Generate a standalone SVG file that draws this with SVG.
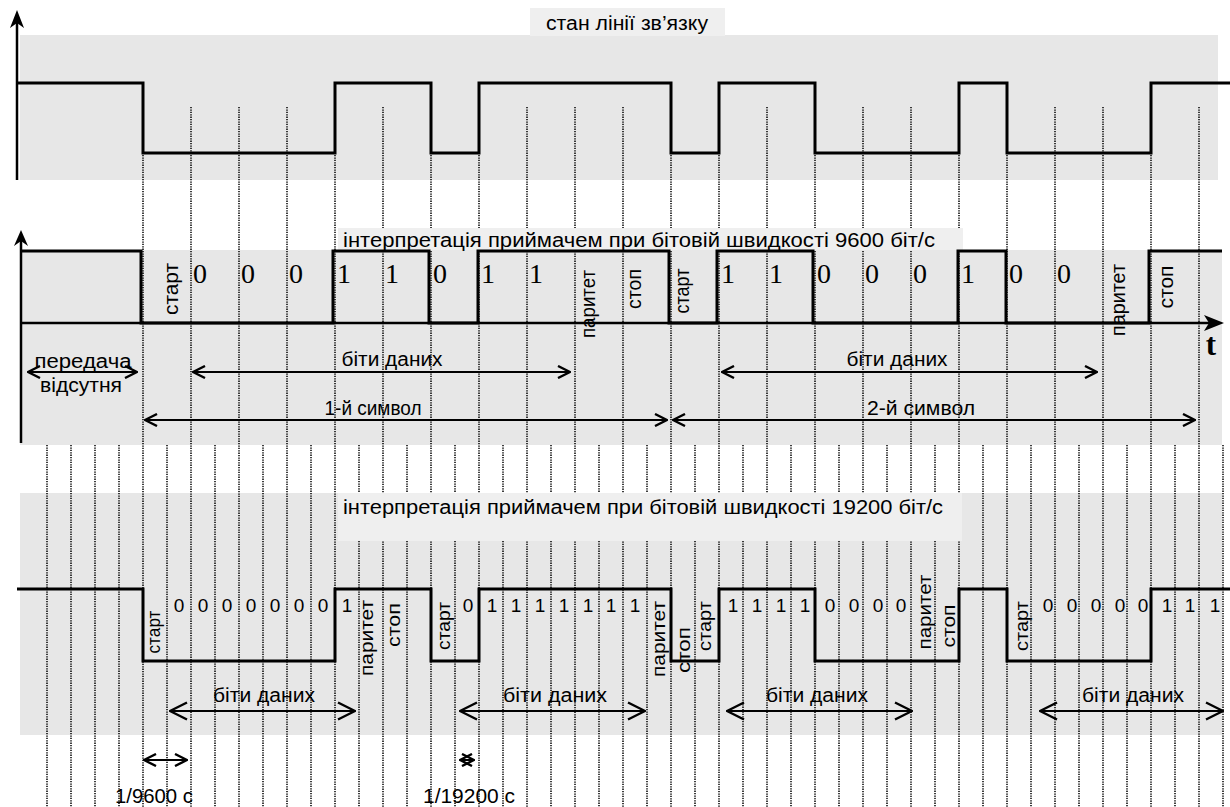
<svg xmlns="http://www.w3.org/2000/svg" width="1230" height="807" viewBox="0 0 1230 807">
<style>
.band{fill:#e7e7e7}
.tab{fill:#efefef}
.grid{fill:none;stroke:#000;stroke-width:1.5;stroke-dasharray:1.3 1.1}
.sig{fill:none;stroke:#000;stroke-width:3;stroke-linejoin:miter}
.ax{fill:none;stroke:#000;stroke-width:2.5}
.arr{fill:none;stroke:#000;stroke-width:2;marker-start:url(#ah);marker-end:url(#ah)}
.arrL{fill:none;stroke:#000;stroke-width:2;marker-start:url(#ahL);marker-end:url(#ahL)}
.t{font-family:"Liberation Sans",Arial,sans-serif;font-size:20px;fill:#000}
.c{text-anchor:middle}
.d{font-family:"Liberation Serif","Times New Roman",serif;font-size:28px;fill:#000}
.ds{font-family:"Liberation Sans",Arial,sans-serif;font-size:19px;fill:#000;text-anchor:middle}
.r{font-family:"Liberation Sans",Arial,sans-serif;font-size:21px;fill:#000;text-anchor:middle}
.rb{font-family:"Liberation Sans",Arial,sans-serif;font-size:19px;fill:#000;text-anchor:middle}
</style>
<defs>
<marker id="ah" viewBox="0 0 14 14" refX="13" refY="7" markerWidth="14" markerHeight="14" markerUnits="userSpaceOnUse" orient="auto-start-reverse">
<path d="M1,1 L13,7 L1,13" fill="none" stroke="#000" stroke-width="2.4"/>
</marker>
<marker id="ahL" viewBox="0 0 20 20" refX="19" refY="10" markerWidth="20" markerHeight="20" markerUnits="userSpaceOnUse" orient="auto-start-reverse">
<path d="M2,1.5 L19,10 L2,18.5" fill="none" stroke="#000" stroke-width="2.4"/>
</marker>
</defs>

<g id="backgrounds">
<rect class="band" x="20" y="35" width="1198" height="145"/>
<rect class="tab" x="530" y="8" width="195" height="28"/>
<rect class="band" x="20" y="250" width="1202" height="195"/>
<rect class="band" x="20" y="493" width="1202" height="242"/>
</g>

<g id="grid">
<path class="grid" d="M143,107V807M191,107V807M239,107V807M287,107V807M335,107V807M383,107V807M431,107V807M479,107V807M527,107V807M575,107V807M623,107V807M671,107V807M719,107V807M767,107V807M815,107V807M863,107V807M911,107V807M959,107V807M1007,107V807M1055,107V807M1103,107V807M1151,107V807M1199,107V807"/>
<path class="grid" d="M47,445V807M71,445V807M95,445V807M119,445V807M167,445V807M215,445V807M263,445V807M311,445V807M359,445V807M407,445V807M455,445V807M503,445V807M551,445V807M599,445V807M647,445V807M695,445V807M743,445V807M791,445V807M839,445V807M887,445V807M935,445V807M983,445V807M1031,445V807M1079,445V807M1127,445V807M1175,445V807M1223,445V807"/>
</g>

<g id="title-tabs">
<rect class="tab" x="338" y="228" width="625" height="22"/>
<rect class="tab" x="338" y="493" width="624" height="48"/>
</g>

<g id="line-state">
<line class="ax" x1="17" y1="180" x2="17" y2="20"/>
<polygon points="17,10 10,28 17,23 24,28" fill="#000"/>
<path class="sig" d="M17,83 H143 V153 H335 V83 H431 V153 H479 V83 H671 V153 H719 V83 H815 V153 H959 V83 H1007 V153 H1151 V83 H1230"/>
<text class="t c" x="627" y="30" textLength="162" lengthAdjust="spacingAndGlyphs">стан лінії зв’язку</text>
</g>

<g id="receiver-9600">
<line class="ax" x1="21" y1="443" x2="21" y2="240"/>
<polygon points="21,230 14,246 21,241 28,246" fill="#000"/>
<line class="ax" x1="21" y1="323" x2="1210" y2="323"/>
<polygon points="1224,323 1204,315 1209,323 1204,331" fill="#000"/>
<text x="1211" y="355" font-family="Liberation Serif, Times New Roman, serif" font-size="31" font-weight="bold" text-anchor="middle">t</text>
<path class="sig" d="M21,251 H141 V323 H333 V251 H429 V323 H478 V251 H669 V323 H717 V251 H813 V323 H958 V251 H1006 V323 H1149 V251 H1222"/>
<text class="t c" x="639" y="247" textLength="592" lengthAdjust="spacingAndGlyphs">інтерпретація приймачем при бітовій швидкості 9600 біт/с</text>
<text class="r" transform="translate(178,289) rotate(-90)" textLength="52" lengthAdjust="spacingAndGlyphs">старт</text>
<text class="d" x="193" y="283">0</text>
<text class="d" x="241" y="283">0</text>
<text class="d" x="289" y="283">0</text>
<text class="d" x="337" y="283">1</text>
<text class="d" x="385" y="283">1</text>
<text class="d" x="433" y="283">0</text>
<text class="d" x="481" y="283">1</text>
<text class="d" x="529" y="283">1</text>
<text class="r" transform="translate(595,304) rotate(-90)" textLength="68" lengthAdjust="spacingAndGlyphs">паритет</text>
<text class="r" transform="translate(641,289) rotate(-90)" textLength="40" lengthAdjust="spacingAndGlyphs">стоп</text>
<text class="r" transform="translate(689,291) rotate(-90)" textLength="45" lengthAdjust="spacingAndGlyphs">старт</text>
<text class="d" x="721" y="283">1</text>
<text class="d" x="769" y="283">1</text>
<text class="d" x="817" y="283">0</text>
<text class="d" x="865" y="283">0</text>
<text class="d" x="913" y="283">0</text>
<text class="d" x="961" y="283">1</text>
<text class="d" x="1009" y="283">0</text>
<text class="d" x="1057" y="283">0</text>
<text class="r" transform="translate(1125,300) rotate(-90)" textLength="72" lengthAdjust="spacingAndGlyphs">паритет</text>
<text class="r" transform="translate(1173,287) rotate(-90)" textLength="43" lengthAdjust="spacingAndGlyphs">стоп</text>
</g>

<g id="connectors">
<line class="arr" x1="28" y1="372" x2="137" y2="372"/>
<line class="arr" x1="193" y1="372" x2="570" y2="372"/>
<line class="arr" x1="722" y1="372" x2="1097" y2="372"/>
<line class="arr" x1="145" y1="420" x2="667" y2="420"/>
<line class="arr" x1="673" y1="420" x2="1195" y2="420"/>
<line class="arrL" x1="170" y1="711" x2="355" y2="711"/>
<line class="arrL" x1="460" y1="711" x2="645" y2="711"/>
<line class="arrL" x1="727" y1="711" x2="912" y2="711"/>
<line class="arrL" x1="1040" y1="711" x2="1223" y2="711"/>
<line class="arr" x1="144" y1="760" x2="187" y2="760"/>
<line class="arr" x1="460" y1="760" x2="474" y2="760"/>
</g>

<g id="labels-9600">
<text class="t c" x="83" y="368" textLength="97" lengthAdjust="spacingAndGlyphs">передача</text>
<text class="t c" x="81" y="392" textLength="82" lengthAdjust="spacingAndGlyphs">відсутня</text>
<text class="t c" x="392" y="366" textLength="101" lengthAdjust="spacingAndGlyphs">біти даних</text>
<text class="t c" x="897" y="366" textLength="101" lengthAdjust="spacingAndGlyphs">біти даних</text>
<text class="t c" x="373" y="415" textLength="97" lengthAdjust="spacingAndGlyphs">1-й символ</text>
<text class="t c" x="921" y="415" textLength="108" lengthAdjust="spacingAndGlyphs">2-й символ</text>
</g>

<g id="receiver-19200">
<path class="sig" d="M17,589 H143 V661 H335 V589 H431 V661 H479 V589 H671 V661 H719 V589 H815 V661 H959 V589 H1007 V661 H1151 V589 H1230"/>
<text class="t c" x="643" y="514" textLength="600" lengthAdjust="spacingAndGlyphs">інтерпретація приймачем при бітовій швидкості 19200  біт/с</text>
<text class="rb" transform="translate(160,632) rotate(-90)" textLength="43" lengthAdjust="spacingAndGlyphs">старт</text>
<text class="ds" x="179" y="612">0</text>
<text class="ds" x="203" y="612">0</text>
<text class="ds" x="227" y="612">0</text>
<text class="ds" x="251" y="612">0</text>
<text class="ds" x="275" y="612">0</text>
<text class="ds" x="299" y="612">0</text>
<text class="ds" x="323" y="612">0</text>
<text class="ds" x="347" y="612">1</text>
<text class="rb" transform="translate(373,638) rotate(-90)" textLength="76" lengthAdjust="spacingAndGlyphs">паритет</text>
<text class="rb" transform="translate(400,625) rotate(-90)" textLength="44" lengthAdjust="spacingAndGlyphs">стоп</text>
<text class="rb" transform="translate(450,626) rotate(-90)" textLength="48" lengthAdjust="spacingAndGlyphs">старт</text>
<text class="ds" x="468" y="612">0</text>
<text class="ds" x="492" y="612">1</text>
<text class="ds" x="516" y="612">1</text>
<text class="ds" x="540" y="612">1</text>
<text class="ds" x="564" y="612">1</text>
<text class="ds" x="588" y="612">1</text>
<text class="ds" x="611" y="612">1</text>
<text class="ds" x="635" y="612">1</text>
<text class="rb" transform="translate(665,639) rotate(-90)" textLength="76" lengthAdjust="spacingAndGlyphs">паритет</text>
<text class="rb" transform="translate(690,650) rotate(-90)" textLength="46" lengthAdjust="spacingAndGlyphs">стоп</text>
<text class="rb" transform="translate(711,626) rotate(-90)" textLength="50" lengthAdjust="spacingAndGlyphs">старт</text>
<text class="ds" x="733" y="612">1</text>
<text class="ds" x="757" y="612">1</text>
<text class="ds" x="781" y="612">1</text>
<text class="ds" x="805" y="612">1</text>
<text class="ds" x="830" y="612">0</text>
<text class="ds" x="854" y="612">0</text>
<text class="ds" x="878" y="612">0</text>
<text class="ds" x="901" y="612">0</text>
<text class="rb" transform="translate(931,612) rotate(-90)" textLength="75" lengthAdjust="spacingAndGlyphs">паритет</text>
<text class="rb" transform="translate(955,626) rotate(-90)" textLength="43" lengthAdjust="spacingAndGlyphs">стоп</text>
<text class="rb" transform="translate(1028,626) rotate(-90)" textLength="50" lengthAdjust="spacingAndGlyphs">старт</text>
<text class="ds" x="1048" y="612">0</text>
<text class="ds" x="1072" y="612">0</text>
<text class="ds" x="1096" y="612">0</text>
<text class="ds" x="1120" y="612">0</text>
<text class="ds" x="1143" y="612">0</text>
<text class="ds" x="1167" y="612">1</text>
<text class="ds" x="1190" y="612">1</text>
<text class="ds" x="1215" y="612">1</text>
</g>

<g id="labels-19200">
<text class="t c" x="264" y="702" textLength="102" lengthAdjust="spacingAndGlyphs">біти даних</text>
<text class="t c" x="555" y="702" textLength="104" lengthAdjust="spacingAndGlyphs">біти даних</text>
<text class="t c" x="817" y="702" textLength="102" lengthAdjust="spacingAndGlyphs">біти даних</text>
<text class="t c" x="1133" y="702" textLength="102" lengthAdjust="spacingAndGlyphs">біти даних</text>
<text class="t c" x="154" y="803" textLength="78" lengthAdjust="spacingAndGlyphs">1/9600 с</text>
<text class="t c" x="469" y="803" textLength="92" lengthAdjust="spacingAndGlyphs">1/19200 с</text>
</g>
</svg>
